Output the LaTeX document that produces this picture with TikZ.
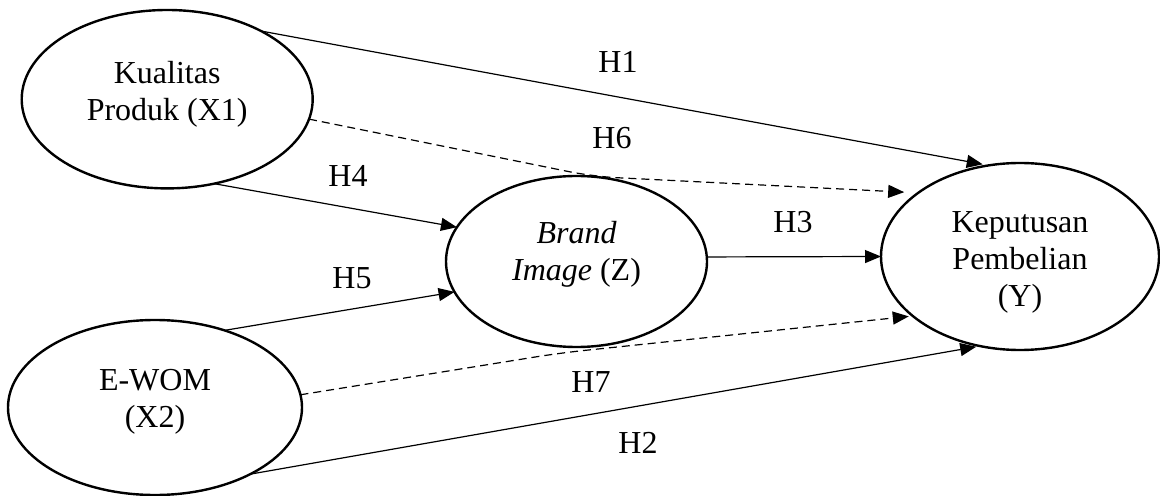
\documentclass[tikz,border=0pt]{standalone}
\usepackage{fontspec}
\setmainfont{Liberation Serif}
\usetikzlibrary{arrows.meta,shapes.geometric}
\begin{document}
\begin{tikzpicture}[x=0.5pt,y=-0.5pt,
  var/.style={ellipse,draw,line width=1.2pt,inner sep=0pt,outer sep=0pt},
  vartext/.style={align=center,font=\fontsize{16}{18.5}\selectfont,inner sep=0pt},
  hyp/.style={font=\fontsize{16}{18.5}\selectfont,inner sep=0pt},
  link/.style={line width=0.6pt,-{Triangle[length=8pt,width=6.5pt]}},
  dlink/.style={link,dash pattern=on 4pt off 2.5pt,rounded corners=12pt}]
\useasboundingbox (0,0) rectangle (1160,496);
% variables
\node[var,minimum width=145.5pt,minimum height=89.2pt] (X1) at (167.2,99.2) {};
\node[vartext] (tX1) at ([yshift=2.5pt]X1.center) {Kualitas\\Produk (X1)};
\node[var,minimum width=147pt,minimum height=87.5pt] (X2) at (155,407.5) {};
\node[vartext] (tX2) at ([yshift=2.75pt]X2.center) {E-WOM\\(X2)};
\node[var,minimum width=130.5pt,minimum height=85.5pt] (Z) at (576.5,261.5) {};
\node[vartext] (tZ) at ([yshift=3.5pt]Z.center) {\itshape Brand\\\textit{Image} (Z)};
\node[var,minimum width=139pt,minimum height=93.5pt] (Y) at (1020,256.5) {};
\node[vartext] (tY) at ([yshift=-2.75pt]Y.center) {Keputusan\\Pembelian\\(Y)};
% bend points of the dashed paths
\coordinate (b6) at (593,176.5);
\coordinate (b7) at (560,353);
% connectors
\draw[link,shorten >=3pt] (X1.36.7) -- (Y.109.4);
\draw[dlink,shorten >=7pt] (X1.352.4) -- (b6) -- (Y.148.5);
\draw[link] (X1.299) -- (Z.164.8);
\draw[link] (X2.48.6) -- (Z.194.2);
\draw[link] (Z.2) -- (Y.180.2);
\draw[dlink,shorten >=2pt] (X2.5.1) -- (b7) -- (Y.209.7);
\draw[link,shorten >=2pt] (X2.325.4) -- (Y.246.5);
% hypothesis labels
\node[hyp] (h1) at (618,62) {H1};
\node[hyp] (h6) at (612,138) {H6};
\node[hyp] (h4) at (348,176) {H4};
\node[hyp] (h5) at (352,278) {H5};
\node[hyp] (h3) at (793,222) {H3};
\node[hyp] (h7) at (591,382) {H7};
\node[hyp] (h2) at (638,443) {H2};
\end{tikzpicture}
\end{document}
